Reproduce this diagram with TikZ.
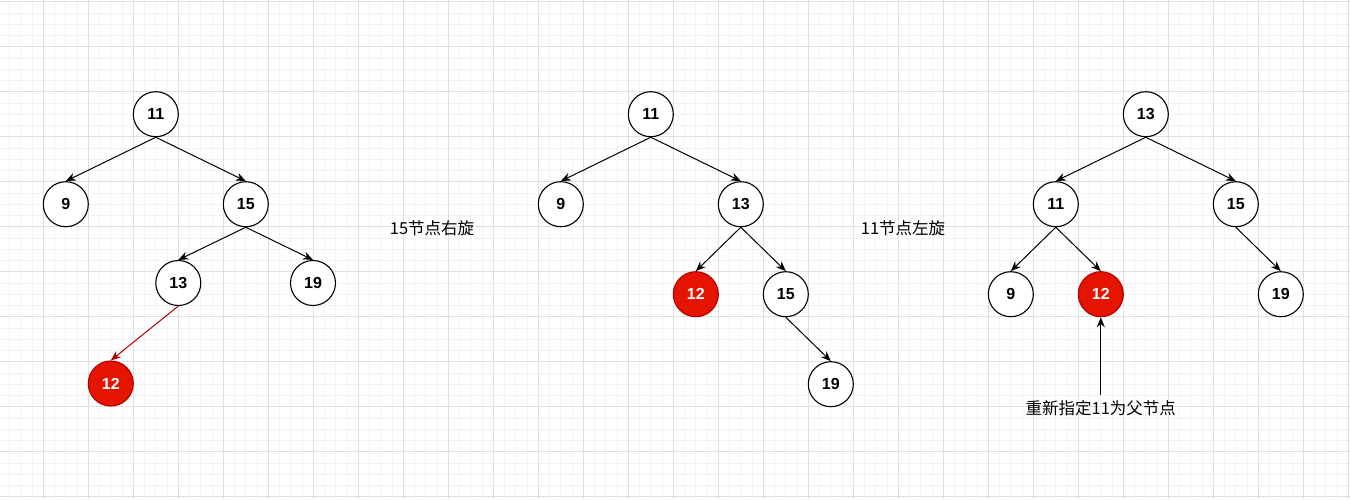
\documentclass[tikz,border=0pt]{standalone}
\usepackage{fontspec}
\setmainfont{Liberation Sans}
\newfontfamily\cjk{Noto Sans CJK SC}
\usetikzlibrary{arrows.meta}
\definecolor{nodered}{HTML}{E51400}
\definecolor{nodeline}{HTML}{B20000}
\definecolor{minorgrid}{HTML}{F3F3F3}
\definecolor{majorgrid}{HTML}{E0E0E0}
\begin{document}
\begin{tikzpicture}[x=1pt,y=-1pt,>={Stealth[length=10pt,width=8pt]},
	num/.style={circle,draw,line width=1.1pt,minimum size=45pt,inner sep=0pt,fill=white,font=\fontsize{16}{19}\selectfont\bfseries},
	rednum/.style={num,fill=nodered,draw=nodeline,text=white},
	edge/.style={->,line width=1pt},
	note/.style={font=\cjk\fontsize{16.5}{19}\selectfont,inner sep=0pt}]
	\useasboundingbox (0,0) rectangle (1350,499);
	\fill[white] (0,0) rectangle (1350,499);
	% grid
	\foreach \g in {0,...,120} \draw[minorgrid,line width=0.8pt] ({-1.7+11.25*\g},0) -- ++(0,499);
	\foreach \g in {0,...,44} \draw[minorgrid,line width=0.8pt] (0,{1.7+11.25*\g}) -- ++(1350,0);
	\foreach \g in {0,...,30} \draw[majorgrid,line width=0.8pt] ({-1.7+45*\g},0) -- ++(0,499);
	\foreach \g in {0,...,11} \draw[majorgrid,line width=0.8pt] (0,{1.7+45*\g}) -- ++(1350,0);
	% first tree
	\node[num] (a11) at (155.8,114.2) {11};
	\node[num] (a9) at (65.8,204.2) {9};
	\node[num] (a15) at (245.8,204.2) {15};
	\node[num] (a13) at (178.3,283) {13};
	\node[num] (a19) at (313,283) {19};
	\node[rednum] (a12) at (110.8,383.5) {12};
	\draw[edge] (a11.south) -- (a9.north);
	\draw[edge] (a11.south) -- (a15.north);
	\draw[edge] (a15.south) -- (a13.north);
	\draw[edge] (a15.south) -- (a19.north);
	\draw[edge,nodeline] (a13.south) -- (a12.north);
	\node[note] (rot1) at (432,228) {15节点右旋};
	% second tree
	\node[num] (b11) at (650.8,114.2) {11};
	\node[num] (b9) at (560.8,204.2) {9};
	\node[num] (b13) at (740.8,204.2) {13};
	\node[rednum] (b12) at (695.8,294.2) {12};
	\node[num] (b15) at (785.8,294.2) {15};
	\node[num] (b19) at (830.8,384.2) {19};
	\draw[edge] (b11.south) -- (b9.north);
	\draw[edge] (b11.south) -- (b13.north);
	\draw[edge] (b13.south) -- (b12.north);
	\draw[edge] (b13.south) -- (b15.north);
	\draw[edge] (b15.south) -- (b19.north);
	\node[note] (rot2) at (903,228) {11节点左旋};
	% third tree
	\node[num] (c13) at (1145.8,114.2) {13};
	\node[num] (c11) at (1055.8,204.2) {11};
	\node[num] (c15) at (1235.8,204.2) {15};
	\node[num] (c9) at (1010.8,294.2) {9};
	\node[rednum] (c12) at (1100.8,294.2) {12};
	\node[num] (c19) at (1280.8,294.2) {19};
	\draw[edge] (c13.south) -- (c11.north);
	\draw[edge] (c13.south) -- (c15.north);
	\draw[edge] (c11.south) -- (c9.north);
	\draw[edge] (c11.south) -- (c12.north);
	\draw[edge] (c15.south) -- (c19.north);
	\node[note] (hint) at (1100.8,408) {重新指定11为父节点};
	\coordinate (tail) at (1100.8,395);
	\draw[edge] (tail) -- (c12.south);
\end{tikzpicture}
\end{document}
